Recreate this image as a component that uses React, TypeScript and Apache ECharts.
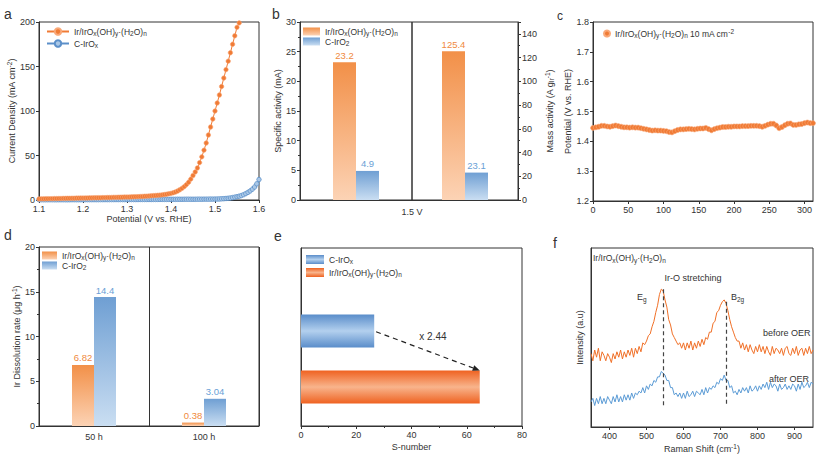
import React, { useEffect, useRef } from 'react';
import * as echarts from 'echarts';

// ---------- data ----------
// a: LSV curves (potential grid start/step, current density values)
const aPotentialStart = 1.1;
const aPotentialStep = 0.005;
const aIrCurrent = [
  1.2, 1.3, 1.3, 1.4, 1.4, 1.5, 1.5, 1.6, 1.6, 1.7,
  1.7, 1.8, 1.8, 1.9, 1.9, 2.0, 2.0, 2.1, 2.1, 2.2,
  2.2, 2.3, 2.3, 2.4, 2.4, 2.5, 2.5, 2.6, 2.6, 2.7,
  2.7, 2.8, 2.8, 2.9, 3.0, 3.0, 3.1, 3.1, 3.2, 3.3,
  3.3, 3.4, 3.5, 3.6, 3.7, 3.8, 3.9, 4.0, 4.2, 4.3,
  4.5, 4.7, 4.9, 5.1, 5.3, 5.5, 5.8, 6.1, 6.5, 7.0,
  7.5, 8.2, 9.0, 10.1, 11.5, 13.1, 15.0, 17.3, 20.0, 23.5,
  27.5, 31.5, 36.0, 42.0, 48.5, 56.0, 64.0, 73.0, 82.0, 91.0,
  100, 109, 118, 127.5, 137, 146.5, 156, 165.5, 175, 184.5,
  194, 199,
];
const aCIrOxCurrent = [
  0.3, 0.3, 0.3, 0.3, 0.3, 0.3, 0.3, 0.3, 0.3, 0.3,
  0.3, 0.3, 0.3, 0.3, 0.3, 0.35, 0.35, 0.35, 0.35, 0.35,
  0.35, 0.4, 0.4, 0.4, 0.4, 0.4, 0.4, 0.4, 0.45, 0.45,
  0.45, 0.45, 0.45, 0.5, 0.5, 0.5, 0.5, 0.5, 0.5, 0.5,
  0.5, 0.55, 0.55, 0.55, 0.55, 0.55, 0.6, 0.6, 0.6, 0.6,
  0.6, 0.6, 0.65, 0.65, 0.65, 0.65, 0.7, 0.7, 0.7, 0.7,
  0.75, 0.75, 0.75, 0.8, 0.8, 0.8, 0.85, 0.85, 0.85, 0.85,
  0.85, 0.85, 0.9, 0.9, 0.9, 0.95, 0.95, 0.95, 1.0, 1.0,
  1.05, 1.1, 1.2, 1.35, 1.5, 1.7, 1.95, 2.3, 2.7, 3.2,
  3.7, 4.3, 5.0, 6.0, 7.2, 8.6, 10.2, 12.2, 14.6, 18.2,
  23,
];

// b: specific and mass activity at 1.5 V
const bSpecificIr = [23.2];
const bSpecificC = [4.9];
const bMassIr = [125.4];
const bMassC = [23.1];

// c: stability test (time grid start/step, potential values)
const cTimeStart = 0;
const cTimeStep = 4;
const cPotential = [
  1.445, 1.447, 1.449, 1.452, 1.452, 1.450, 1.449, 1.451, 1.453, 1.451,
  1.449, 1.447, 1.447, 1.446, 1.447, 1.446, 1.446, 1.444, 1.442, 1.440,
  1.438, 1.436, 1.437, 1.436, 1.436, 1.435, 1.434, 1.431, 1.430, 1.434,
  1.438, 1.440, 1.440, 1.441, 1.442, 1.441, 1.440, 1.442, 1.443, 1.443,
  1.445, 1.441, 1.437, 1.441, 1.444, 1.446, 1.448, 1.448, 1.449, 1.449,
  1.450, 1.450, 1.450, 1.451, 1.451, 1.451, 1.452, 1.452, 1.452, 1.451,
  1.449, 1.452, 1.456, 1.459, 1.459, 1.453, 1.444, 1.448, 1.454, 1.459,
  1.460, 1.455, 1.455, 1.457, 1.458, 1.461, 1.463, 1.461, 1.461,
];

// d: Ir dissolution rate
const dCategories = ['50 h', '100 h'];
const dIr = [6.82, 0.38];
const dC = [14.4, 3.04];

// e: S-number (categories bottom to top)
const eCategories = ['Ir', 'C'];
const eIrValue = 64.7;
const eCValue = 26.5;
const eRatioText = 'x 2.44';

// f: Raman spectra (shift grid start/step, intensity values)
const fShiftStart = 350;
const fShiftStep = 5;
const fBefore = [
  41, 37, 43, 39, 44, 37, 42, 40, 37, 41,
  39, 36, 41, 38, 42, 39, 43, 38, 42, 39,
  43, 40, 44, 39, 44, 41, 45, 42, 47, 46,
  48, 51, 52, 56, 59, 64, 68, 74, 77, 76,
  71, 67, 60, 57, 52, 50, 48, 46, 47, 44,
  47, 43, 47, 44, 48, 43, 47, 44, 48, 45,
  49, 46, 50, 49, 53, 53, 58, 59, 64, 65,
  68, 70, 71, 69, 65, 60, 56, 53, 50, 48,
  48, 44, 47, 43, 46, 42, 46, 43, 41, 45,
  42, 46, 42, 45, 41, 45, 42, 40, 45, 41,
  44, 43, 41, 44, 40, 44, 45, 41, 40, 44,
  41, 45, 40, 43, 44, 40, 44, 41, 45, 41,
  43,
];
const fAfter = [
  14, 16, 12, 16, 13, 17, 13, 16, 13, 17,
  15, 13, 17, 14, 18, 14, 17, 14, 18, 15,
  18, 15, 19, 16, 19, 18, 20, 19, 22, 19,
  23, 21, 24, 23, 26, 25, 28, 28, 31, 30,
  29, 26, 26, 22, 22, 18, 19, 17, 19, 16,
  19, 16, 20, 17, 18, 20, 17, 20, 19, 18,
  21, 18, 22, 19, 22, 21, 23, 22, 25, 24,
  27, 26, 29, 26, 26, 22, 23, 19, 20, 18,
  21, 19, 22, 20, 22, 19, 23, 20, 21, 23,
  20, 23, 21, 24, 22, 25, 21, 25, 22, 24,
  23, 20, 24, 21, 22, 24, 21, 23, 21, 24,
  23, 20, 24, 21, 25, 22, 23, 25, 22, 25,
  24,
];
const fPeaks = [545, 715];
const fDashBottom = 12;

// ---------- styling ----------
const FONT = '"Liberation Sans", Arial, Helvetica, sans-serif';
const DARK = '#333333';
const ORANGE = '#f07b35';
const ORANGE_TXT = '#f08a40';
const BLUE = '#5b8fc9';
const BLUE_TXT = '#6a9fd6';

const RICH = {
  sub: { fontSize: 6.5, padding: [4, 0, 0, 0], fontFamily: FONT },
  sup: { fontSize: 6.5, padding: [0, 0, 4, 0], fontFamily: FONT },
};

const SPEC = 'Ir/IrO{sub|x}(OH){sub|y}·(H{sub|2}O){sub|n}';
const LEGEND_NAMES: Record<string, string> = {
  aIr: SPEC,
  aC: 'C-IrO{sub|x}',
  bIrS: SPEC,
  bCS: 'C-IrO{sub|2}',
  cIr: SPEC + ' 10 mA cm{sup|-2}',
  dIr: SPEC,
  dC: 'C-IrO{sub|2}',
  eC: 'C-IrO{sub|x}',
  eIr: SPEC,
};

const vGrad = (top: string, bottom: string) => ({
  type: 'linear', x: 0, y: 0, x2: 0, y2: 1,
  colorStops: [{ offset: 0, color: top }, { offset: 1, color: bottom }],
});
const tubeGrad = (edge: string, mid: string) => ({
  type: 'linear', x: 0, y: 0, x2: 0, y2: 1,
  colorStops: [{ offset: 0, color: edge }, { offset: 0.5, color: mid }, { offset: 1, color: edge }],
});
const ORANGE_BAR = vGrad('#f29048', '#fcd3b5');
const BLUE_BAR = vGrad('#6f9fd3', '#cadef2');
const ORANGE_TUBE = tubeGrad('#ef6221', '#f8b48c');
const BLUE_TUBE = tubeGrad('#5a8dca', '#b3d0ee');

const baseAxis = {
  axisLine: { show: true, onZero: false, lineStyle: { color: DARK, width: 1 } },
  axisTick: { show: true, length: 3, lineStyle: { color: DARK } },
  axisLabel: { color: DARK, fontSize: 9, fontFamily: FONT, margin: 4 },
  splitLine: { show: false },
  nameLocation: 'middle',
  nameTextStyle: { color: DARK, fontSize: 9, fontFamily: FONT, rich: RICH },
};
function ax(o: any) {
  return {
    ...baseAxis,
    ...o,
    axisLabel: { ...baseAxis.axisLabel, ...(o.axisLabel || {}) },
    axisTick: { ...baseAxis.axisTick, ...(o.axisTick || {}) },
  };
}
const minor = { show: true, splitNumber: 2, length: 2, lineStyle: { color: DARK } };

function legend(data: string[], left: number, top: number, extra: any) {
  return {
    data,
    orient: 'vertical',
    left,
    top,
    padding: 0,
    itemGap: 2,
    selectedMode: false,
    formatter: (n: string) => LEGEND_NAMES[n],
    textStyle: { color: DARK, fontSize: 8.5, fontFamily: FONT, rich: RICH },
    ...extra,
  };
}

function textEl(text: string, x: number, y: number, extra: any = {}) {
  return {
    type: 'text',
    x,
    y,
    silent: true,
    z: 100,
    style: {
      text,
      fill: DARK,
      fontSize: 9,
      fontFamily: FONT,
      align: 'left',
      verticalAlign: 'middle',
      rich: RICH,
      ...extra,
    },
  };
}

function buildOption() {
  const grids = [
    { left: 39, top: 22, width: 220, height: 178 },
    { left: 300, top: 22, width: 112, height: 178 },
    { left: 412, top: 22, width: 106, height: 178 },
    { left: 593, top: 22, width: 220, height: 179 },
    { left: 39, top: 247, width: 220, height: 179 },
    { left: 301, top: 248, width: 221, height: 178 },
    { left: 301, top: 303, width: 221, height: 112 },
    { left: 591, top: 248, width: 222, height: 179 },
  ].map((g, i) => ({
    ...g,
    show: i !== 6,
    borderColor: DARK,
    borderWidth: 1,
    backgroundColor: 'rgba(0,0,0,0)',
  }));

  const peakTop = (p: number) => fBefore[Math.round((p - fShiftStart) / fShiftStep)] + 1;

  return {
    animation: false,
    backgroundColor: '#ffffff',
    textStyle: { fontFamily: FONT },
    grid: grids,
    xAxis: [
      ax({ gridIndex: 0, type: 'value', min: 1.1, max: 1.6, interval: 0.1, name: 'Potential (V vs. RHE)', nameGap: 14,
        axisLabel: { formatter: (v: number) => v.toFixed(1) } }),
      ax({ gridIndex: 1, type: 'category', data: ['S'], axisLabel: { show: false }, axisTick: { show: false } }),
      ax({ gridIndex: 2, type: 'category', data: ['M'], axisLabel: { show: false }, axisTick: { show: false } }),
      ax({ gridIndex: 3, type: 'value', min: 0, max: 312, interval: 50, axisLabel: { showMaxLabel: false } }),
      ax({ gridIndex: 4, type: 'category', data: dCategories, axisTick: { show: false }, axisLabel: { margin: 6 },
        splitLine: { show: true, interval: 0, lineStyle: { color: DARK, width: 1 } } }),
      ax({ gridIndex: 5, type: 'value', min: 0, max: 80, interval: 20, name: 'S-number', nameGap: 16, minorTick: minor }),
      { gridIndex: 6, type: 'value', min: 0, max: 80, show: false },
      ax({ gridIndex: 7, type: 'value', min: 350, max: 950, name: 'Raman Shift (cm{sup|-1})', nameGap: 16,
        axisLabel: { showMinLabel: false, showMaxLabel: false } }),
    ],
    yAxis: [
      ax({ gridIndex: 0, type: 'value', min: 0, max: 200, interval: 50, name: 'Current Density (mA cm{sup|-2})', nameGap: 22 }),
      ax({ gridIndex: 1, type: 'value', min: 0, max: 30, interval: 5, name: 'Specific activity (mA)', nameGap: 16, minorTick: minor }),
      ax({ gridIndex: 2, type: 'value', min: 0, max: 150, interval: 20, position: 'right', name: 'Mass activity (A g{sub|Ir}{sup|-1})',
        nameGap: 26, minorTick: minor, axisLabel: { showMaxLabel: false } }),
      ax({ gridIndex: 3, type: 'value', min: 1.2, max: 1.8, interval: 0.1, name: 'Potential (V vs. RHE)', nameGap: 21,
        axisLabel: { formatter: (v: number) => v.toFixed(1) } }),
      ax({ gridIndex: 4, type: 'value', min: 0, max: 20, interval: 5, name: 'Ir Dissolution rate (μg h{sup|-1})', nameGap: 15, minorTick: minor }),
      ax({ gridIndex: 5, type: 'value', min: 0, max: 1, axisLabel: { show: false }, axisTick: { show: false } }),
      { gridIndex: 6, type: 'category', data: eCategories, show: false },
      ax({ gridIndex: 7, type: 'value', min: 0, max: 100, name: 'Intensity (a.u)', nameGap: 7,
        axisLabel: { show: false }, axisTick: { show: false } }),
    ],
    legend: [
      legend(['aIr', 'aC'], 46, 27, { itemWidth: 22, itemHeight: 8 }),
      legend(['bIrS', 'bCS'], 303, 27, { itemWidth: 17, itemHeight: 8, icon: 'rect', itemGap: 0 }),
      legend(['cIr'], 603, 28, { itemWidth: 6, itemHeight: 6, icon: 'circle' }),
      legend(['dIr', 'dC'], 42, 251, { itemWidth: 15, itemHeight: 8, icon: 'rect', itemGap: 0 }),
      legend(['eC', 'eIr'], 306, 255, { itemWidth: 18, itemHeight: 9, icon: 'rect', itemGap: 3 }),
    ],
    series: [
      {
        name: 'aIr', type: 'line', xAxisIndex: 0, yAxisIndex: 0,
        data: aIrCurrent.map((v, i) => [aPotentialStart + i * aPotentialStep, v]),
        symbol: 'circle', symbolSize: 4.5, showAllSymbol: true, clip: true, z: 3,
        itemStyle: { color: ORANGE, borderColor: '#f9a878', borderWidth: 0.6 },
        lineStyle: { color: ORANGE, width: 1 },
      },
      {
        name: 'aC', type: 'line', xAxisIndex: 0, yAxisIndex: 0,
        data: aCIrOxCurrent.map((v, i) => [aPotentialStart + i * aPotentialStep, v]),
        symbol: 'circle', symbolSize: 4.5, showAllSymbol: true, clip: true, z: 2,
        itemStyle: { color: '#a9c7e6', borderColor: BLUE, borderWidth: 0.8 },
        lineStyle: { color: BLUE, width: 1 },
      },
      {
        name: 'bIrS', type: 'bar', xAxisIndex: 1, yAxisIndex: 1, data: bSpecificIr, barWidth: 23, barGap: '0%',
        itemStyle: { color: ORANGE_BAR },
        label: { show: true, position: 'top', distance: 2, color: ORANGE_TXT, fontSize: 9.5, fontFamily: FONT },
      },
      {
        name: 'bCS', type: 'bar', xAxisIndex: 1, yAxisIndex: 1, data: bSpecificC, barWidth: 23, barGap: '0%',
        itemStyle: { color: BLUE_BAR },
        label: { show: true, position: 'top', distance: 2, color: BLUE_TXT, fontSize: 9.5, fontFamily: FONT },
      },
      {
        name: 'bIrM', type: 'bar', xAxisIndex: 2, yAxisIndex: 2, data: bMassIr, barWidth: 23, barGap: '0%',
        itemStyle: { color: ORANGE_BAR },
        label: { show: true, position: 'top', distance: 2, color: ORANGE_TXT, fontSize: 9.5, fontFamily: FONT },
      },
      {
        name: 'bCM', type: 'bar', xAxisIndex: 2, yAxisIndex: 2, data: bMassC, barWidth: 23, barGap: '0%',
        itemStyle: { color: BLUE_BAR },
        label: { show: true, position: 'top', distance: 2, color: BLUE_TXT, fontSize: 9.5, fontFamily: FONT },
      },
      {
        name: 'cIr', type: 'scatter', xAxisIndex: 3, yAxisIndex: 3,
        data: cPotential.map((v, i) => [cTimeStart + i * cTimeStep, v]),
        symbol: 'circle', symbolSize: 5,
        itemStyle: { color: ORANGE, borderColor: '#f9a878', borderWidth: 0.6, opacity: 1 },
      },
      {
        name: 'dIr', type: 'bar', xAxisIndex: 4, yAxisIndex: 4, data: dIr, barWidth: 22, barGap: '0%',
        itemStyle: { color: ORANGE_BAR },
        label: { show: true, position: 'top', distance: 2, color: ORANGE_TXT, fontSize: 9.5, fontFamily: FONT },
      },
      {
        name: 'dC', type: 'bar', xAxisIndex: 4, yAxisIndex: 4, data: dC, barWidth: 22, barGap: '0%',
        itemStyle: { color: BLUE_BAR },
        label: { show: true, position: 'top', distance: 2, color: BLUE_TXT, fontSize: 9.5, fontFamily: FONT },
      },
      {
        name: 'eIr', type: 'bar', xAxisIndex: 6, yAxisIndex: 6, data: [eIrValue, '-'], barWidth: 33, barGap: '-100%',
        itemStyle: { color: ORANGE_TUBE },
      },
      {
        name: 'eC', type: 'bar', xAxisIndex: 6, yAxisIndex: 6, data: ['-', eCValue], barWidth: 33, barGap: '-100%',
        itemStyle: { color: BLUE_TUBE },
      },
      {
        name: 'fBefore', type: 'line', xAxisIndex: 7, yAxisIndex: 7,
        data: fBefore.map((v, i) => [fShiftStart + i * fShiftStep, v]),
        showSymbol: false, symbol: 'none', lineStyle: { color: '#f07028', width: 1 },
        markLine: {
          silent: true, symbol: ['none', 'none'], label: { show: false },
          lineStyle: { type: [4, 3], color: '#444444', width: 1.2 },
          data: fPeaks.map((p) => [{ coord: [p, peakTop(p)] }, { coord: [p, fDashBottom] }]),
        },
      },
      {
        name: 'fAfter', type: 'line', xAxisIndex: 7, yAxisIndex: 7,
        data: fAfter.map((v, i) => [fShiftStart + i * fShiftStep, v]),
        showSymbol: false, symbol: 'none', lineStyle: { color: '#5b9bd5', width: 1 },
      },
    ],
  };
}

function staticGraphics() {
  return [
    textEl('a', 4, 14, { fontSize: 14 }),
    textEl('b', 272, 14, { fontSize: 14 }),
    textEl('c', 557, 16, { fontSize: 12 }),
    textEl('d', 4, 235, { fontSize: 14 }),
    textEl('e', 274, 236, { fontSize: 14 }),
    textEl('f', 553, 243, { fontSize: 14 }),
    textEl('1.5 V', 412, 212, { align: 'center' }),
    textEl(SPEC, 593, 258, { fontSize: 8.5 }),
    textEl('Ir-O stretching', 693, 278, { align: 'center' }),
    textEl('E{sub|g}', 637, 297),
    textEl('B{sub|2g}', 731, 297),
    textEl('before OER', 763, 333),
    textEl('after OER', 769, 379),
  ];
}

export default function App() {
  const ref = useRef<HTMLDivElement>(null);
  useEffect(() => {
    if (!ref.current) return;
    const chart = echarts.init(ref.current, null, { renderer: 'svg' });
    chart.setOption(buildOption() as any);

    const eCIndex = 10;
    const eIrIndex = 9;
    const s = chart.convertToPixel({ seriesIndex: eCIndex }, [eCValue, 'C']) as number[];
    const t0 = chart.convertToPixel({ seriesIndex: eIrIndex }, [eIrValue, 'Ir']) as number[];
    const graphics: any[] = staticGraphics();
    if (s && t0) {
      const t = [t0[0], t0[1] - 16.5];
      const dx = t[0] - s[0];
      const dy = t[1] - s[1];
      const len = Math.sqrt(dx * dx + dy * dy);
      const ux = dx / len;
      const uy = dy / len;
      const base = [t[0] - ux * 7, t[1] - uy * 7];
      const nx = -uy;
      const ny = ux;
      graphics.push({
        type: 'line', silent: true, z: 100,
        shape: { x1: s[0] + ux * 2, y1: s[1] + uy * 2, x2: base[0], y2: base[1] },
        style: { stroke: '#222222', lineWidth: 1.2, lineDash: [5, 4] },
      });
      graphics.push({
        type: 'polygon', silent: true, z: 100,
        shape: { points: [[t[0], t[1]], [base[0] + nx * 3, base[1] + ny * 3], [base[0] - nx * 3, base[1] - ny * 3]] },
        style: { fill: '#222222' },
      });
      graphics.push(textEl(eRatioText, (s[0] + t[0]) / 2 + 6, (s[1] + t[1]) / 2 - 14, { fontSize: 10, align: 'center' }));
    }
    chart.setOption({ graphic: graphics } as any);
    return () => chart.dispose();
  }, []);
  return <div ref={ref} style={{ position: 'absolute', left: 0, top: 0, width: 821, height: 462 }} />;
}
